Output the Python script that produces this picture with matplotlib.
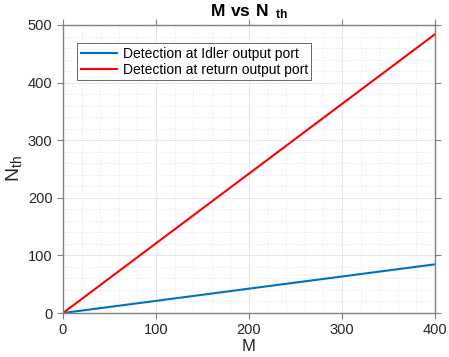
import matplotlib
matplotlib.use("Agg")
import matplotlib.pyplot as plt
from matplotlib.ticker import MultipleLocator

plt.rcParams['font.family'] = ['Liberation Sans', 'DejaVu Sans']
plt.rcParams['mathtext.fontset'] = 'custom'
plt.rcParams['mathtext.rm'] = 'Liberation Sans'
plt.rcParams['mathtext.bf'] = 'Liberation Sans:bold'

M = [0, 100, 200, 300, 400]
idler = [0, 21.1, 42.3, 63.4, 84.5]
ret = [0, 121, 242, 363, 484]
labels = ["Detection at Idler output port", "Detection at return output port"]

fig = plt.figure(figsize=(4.49, 3.57), dpi=100)
ax = fig.add_axes([0.1403, 0.1232, 0.8285, 0.8068])
ax.plot(M, idler, color='#0072BD', lw=1.5, label=labels[0])
ax.plot(M, ret, color='#FF0000', lw=1.5, label=labels[1])
ax.set_xlim(0, 400)
ax.set_ylim(0, 500)
ax.xaxis.set_major_locator(MultipleLocator(100))
ax.yaxis.set_major_locator(MultipleLocator(100))
ax.xaxis.set_minor_locator(MultipleLocator(20))
ax.yaxis.set_minor_locator(MultipleLocator(20))
ax.grid(True, which='major', color='#e3e3e3', lw=0.6)
ax.grid(True, which='minor', color='#dcdcdc', lw=0.6, ls=(0, (1, 2)))
ax.set_axisbelow(True)
for s in ax.spines.values():
    s.set_color('#808080')
    s.set_linewidth(1.0)
ax.tick_params(which='major', direction='out', length=4, color='#808080',
               labelsize=10.5, top=True, right=True, labelcolor='#262626')
ax.tick_params(which='minor', length=0)
ax.set_xlabel('M', fontsize=12, color='#262626', labelpad=1)
ax.set_ylabel(r'N$_{\rm th}$', fontsize=14, color='#262626', labelpad=2)
ax.set_title(r'$\mathbf{M\ vs\ N_{\ \ th}}$', fontsize=12.5, pad=6)
leg = ax.legend(loc='upper left', bbox_to_anchor=(0.02, 0.96), fontsize=10,
                frameon=True, fancybox=False, edgecolor='#262626',
                borderpad=0.25, handlelength=2.6, labelspacing=0.15, handletextpad=0.4)
leg.get_frame().set_linewidth(0.6)
fig.savefig('out.png', dpi=100)
